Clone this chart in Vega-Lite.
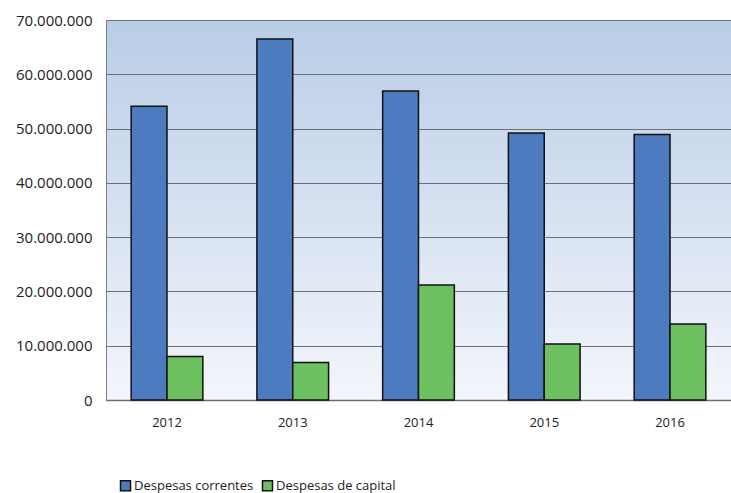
{
  "$schema": "https://vega.github.io/schema/vega-lite/v6.json",
  "width": 625,
  "height": 380,
  "autosize": {"type": "none"},
  "padding": {"left": 106, "top": 20, "right": 0, "bottom": 93},
  "background": "white",
  "config": {
    "locale": {"number": {"decimal": ",", "thousands": ".", "grouping": [3], "currency": ["", " €"]}},
    "font": "Open Sans"
  },
  "view": {
    "stroke": null,
    "fill": {
      "gradient": "linear",
      "x1": 0, "y1": 0, "x2": 0, "y2": 1,
      "stops": [
        {"offset": 0, "color": "#b9cde7"},
        {"offset": 1, "color": "#f3f6fb"}
      ]
    }
  },
  "data": {
    "values": [
      {"ano": "2012", "serie": "Despesas correntes", "valor": 54100000},
      {"ano": "2012", "serie": "Despesas de capital", "valor": 8000000},
      {"ano": "2013", "serie": "Despesas correntes", "valor": 66500000},
      {"ano": "2013", "serie": "Despesas de capital", "valor": 6900000},
      {"ano": "2014", "serie": "Despesas correntes", "valor": 56900000},
      {"ano": "2014", "serie": "Despesas de capital", "valor": 21200000},
      {"ano": "2015", "serie": "Despesas correntes", "valor": 49200000},
      {"ano": "2015", "serie": "Despesas de capital", "valor": 10300000},
      {"ano": "2016", "serie": "Despesas correntes", "valor": 48900000},
      {"ano": "2016", "serie": "Despesas de capital", "valor": 14000000}
    ]
  },
  "mark": {"type": "bar", "stroke": "#111111", "strokeWidth": 1.5},
  "encoding": {
    "x": {
      "field": "ano",
      "type": "nominal",
      "scale": {"paddingInner": 0.43, "paddingOuter": 0.2},
      "axis": {
        "title": null,
        "labelAngle": 0,
        "labelFontSize": 13,
        "labelColor": "#222222",
        "labelPadding": 16,
        "ticks": false,
        "domainColor": "#6f6f6f",
        "domainWidth": 1.5
      }
    },
    "xOffset": {"field": "serie", "type": "nominal", "scale": {"paddingInner": 0, "paddingOuter": 0}},
    "y": {
      "field": "valor",
      "type": "quantitative",
      "scale": {"domain": [0, 70000000], "nice": false},
      "axis": {
        "title": null,
        "format": ",d",
        "values": [0, 10000000, 20000000, 30000000, 40000000, 50000000, 60000000, 70000000],
        "labelOverlap": false,
        "labelFontSize": 15,
        "labelColor": "#222222",
        "labelPadding": 14,
        "ticks": false,
        "grid": true,
        "gridColor": "#6f6f6f",
        "gridWidth": 1.2,
        "domainColor": "#7f7f7f",
        "domainWidth": 1
      }
    },
    "color": {
      "field": "serie",
      "type": "nominal",
      "scale": {"domain": ["Despesas correntes", "Despesas de capital"], "range": ["#4c7bbf", "#6cc060"]},
      "legend": {
        "title": null,
        "orient": "none",
        "legendX": 13,
        "legendY": 459,
        "direction": "horizontal",
        "symbolType": "square",
        "symbolSize": 100,
        "symbolStrokeColor": "#111111",
        "symbolStrokeWidth": 1.5,
        "labelFontSize": 13,
        "labelColor": "#222222",
        "columnPadding": 5,
        "labelOffset": 2
      }
    }
  }
}
